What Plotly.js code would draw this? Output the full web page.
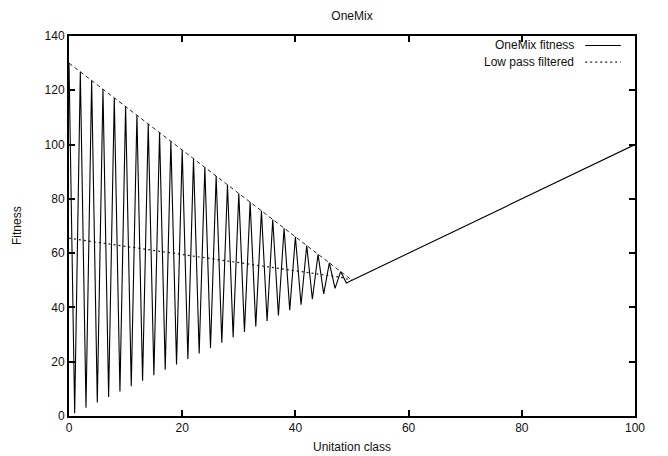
<!DOCTYPE html>
<html>
<head>
<meta charset="utf-8">
<script src="https://cdn.plot.ly/plotly-3.0.1.min.js"></script>
<style>
  html, body { margin: 0; padding: 0; background: #fff; }
  #chart { width: 668px; height: 456px; }
</style>
</head>
<body>
<div id="chart"></div>
<script>
// OneMix fitness by unitation class (zig-zag below n/2, linear above)
const unitation = [0, 1, 2, 3, 4, 5, 6, 7, 8, 9, 10, 11, 12, 13, 14, 15, 16, 17, 18, 19,
  20, 21, 22, 23, 24, 25, 26, 27, 28, 29, 30, 31, 32, 33, 34, 35, 36, 37, 38, 39,
  40, 41, 42, 43, 44, 45, 46, 47, 48, 49, 50, 100];
const fitness = [130, 1, 126.8, 3, 123.6, 5, 120.4, 7, 117.2, 9, 114, 11, 110.8, 13, 107.6, 15,
  104.4, 17, 101.2, 19, 98, 21, 94.8, 23, 91.6, 25, 88.4, 27, 85.2, 29, 82, 31, 78.8, 33,
  75.6, 35, 72.4, 37, 69.2, 39, 66, 41, 62.8, 43, 59.6, 45, 56.4, 47, 53.2, 49, 50, 100];

// Low pass filtered fitness over the deceptive half
const lowPassX = [0, 10, 20, 30, 40, 48, 50];
const lowPassY = [65.5, 62.5, 59.5, 56.5, 53.5, 51.1, 50];

// Upper envelope of the even unitation classes
const envelopeX = [0, 50];
const envelopeY = [130, 50];

const xTicks = [0, 20, 40, 60, 80, 100];
const yTicks = [0, 20, 40, 60, 80, 100, 120, 140];

const font = { family: 'Liberation Sans, Arial, sans-serif', size: 12, color: '#111' };

const traces = [
  {
    x: envelopeX, y: envelopeY, mode: 'lines', showlegend: false, hoverinfo: 'skip',
    line: { color: '#222', width: 1, dash: '4px,3px' }
  },
  {
    x: lowPassX, y: lowPassY, mode: 'lines', name: 'Low pass filtered', showlegend: false,
    line: { color: '#222', width: 1.2, dash: '2px,3px' }
  },
  {
    x: unitation, y: fitness, mode: 'lines', name: 'OneMix fitness', showlegend: false,
    line: { color: '#000', width: 1.1 }
  }
];

const axisCommon = {
  showgrid: false, zeroline: false,
  showline: true, linecolor: '#000', linewidth: 2, mirror: 'ticks',
  ticks: 'inside', ticklen: 6, tickwidth: 2, tickcolor: '#000',
  tickfont: font
};

const layout = {
  width: 668, height: 456,
  margin: { l: 69, r: 33, t: 36, b: 40 },
  paper_bgcolor: '#fff', plot_bgcolor: '#fff',
  font: font,
  showlegend: false,
  title: { text: 'OneMix', font: font, x: 0.5, xref: 'paper', y: 1 - 16 / 456, yanchor: 'middle' },
  xaxis: Object.assign({}, axisCommon, {
    range: [0, 100], tickvals: xTicks, ticktext: xTicks.map(String)
  }),
  yaxis: Object.assign({}, axisCommon, {
    range: [0, 140], tickvals: yTicks, ticktext: yTicks.map(String)
  }),
  annotations: [
    { text: 'Unitation class', xref: 'paper', yref: 'paper', x: 0.5, y: 0,
      xanchor: 'center', yanchor: 'middle', yshift: -31, showarrow: false, font: font },
    { text: 'Fitness', xref: 'paper', yref: 'paper', x: 0, y: 0.5, textangle: -90,
      xanchor: 'center', yanchor: 'middle', xshift: -52, showarrow: false, font: font },
    { text: 'OneMix fitness', xref: 'paper', yref: 'paper', x: 0.895, y: 0.976,
      xanchor: 'right', yanchor: 'middle', showarrow: false, font: font },
    { text: 'Low pass filtered', xref: 'paper', yref: 'paper', x: 0.895, y: 0.932,
      xanchor: 'right', yanchor: 'middle', showarrow: false, font: font }
  ],
  shapes: [
    { type: 'line', xref: 'paper', yref: 'paper', x0: 0.912, x1: 0.975, y0: 0.975, y1: 0.975,
      line: { color: '#000', width: 1.1 } },
    { type: 'line', xref: 'paper', yref: 'paper', x0: 0.912, x1: 0.975, y0: 0.931, y1: 0.931,
      line: { color: '#222', width: 1.2, dash: '2px,3px' } }
  ]
};

Plotly.newPlot('chart', traces, layout, { staticPlot: true, displayModeBar: false });
</script>
</body>
</html>
